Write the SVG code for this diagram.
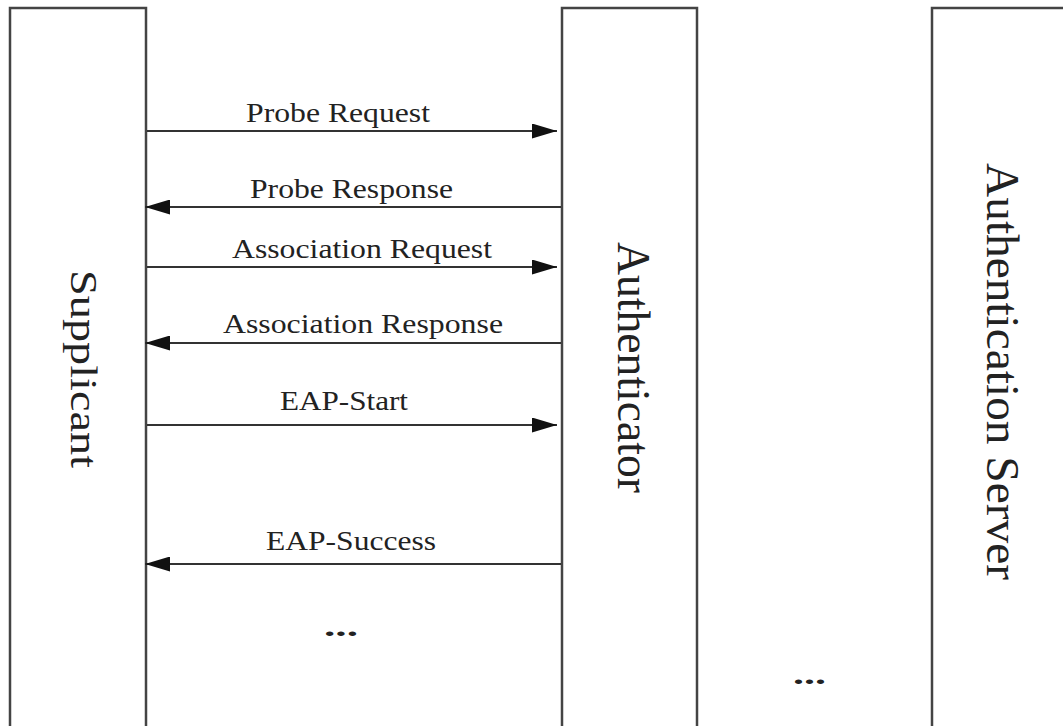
<svg xmlns="http://www.w3.org/2000/svg" width="1063" height="726" viewBox="0 0 1063 726">
  <style>
    .box { fill: #ffffff; stroke: #444444; stroke-width: 2.5; }
    .msg { stroke: #333333; stroke-width: 2.2; fill: none; marker-end: url(#arrow); }
    .lbl { font-family: "Liberation Serif", "Times New Roman", serif; font-size: 28px; fill: #222222; }
    .vlbl { font-family: "Liberation Serif", "Times New Roman", serif; fill: #222222; }
  </style>
  <defs>
    <marker id="arrow" markerUnits="userSpaceOnUse" markerWidth="26" markerHeight="15" refX="25" refY="7.5" orient="auto">
      <path d="M0,0 L25,7.5 L0,15 Z" fill="#111111"/>
    </marker>
  </defs>
  <rect width="1063" height="726" fill="#ffffff"/>

  <g id="supplicant">
    <rect class="box" x="10" y="8" width="136" height="740"/>
    <text class="vlbl" font-size="38" transform="translate(71,270) rotate(90)" textLength="198" lengthAdjust="spacingAndGlyphs">Supplicant</text>
  </g>

  <g id="authenticator">
    <rect class="box" x="562" y="8" width="135" height="740"/>
    <text class="vlbl" font-size="47" transform="translate(618,242) rotate(90)" textLength="251" lengthAdjust="spacingAndGlyphs">Authenticator</text>
  </g>

  <g id="authentication-server">
    <rect class="box" x="932" y="8" width="160" height="740"/>
    <text class="vlbl" font-size="47" transform="translate(987,163) rotate(90)" textLength="417" lengthAdjust="spacingAndGlyphs">Authentication Server</text>
  </g>

  <g id="connectors">
    <line class="msg" x1="147" y1="131" x2="557" y2="131"/>
    <line class="msg" x1="561" y1="207" x2="145" y2="207"/>
    <line class="msg" x1="147" y1="267" x2="557" y2="267"/>
    <line class="msg" x1="561" y1="343" x2="145" y2="343"/>
    <line class="msg" x1="147" y1="425" x2="557" y2="425"/>
    <line class="msg" x1="561" y1="564" x2="145" y2="564"/>
  </g>

  <g id="labels">
    <text class="lbl" x="246" y="122" textLength="184" lengthAdjust="spacingAndGlyphs">Probe Request</text>
    <text class="lbl" x="250" y="198" textLength="203" lengthAdjust="spacingAndGlyphs">Probe Response</text>
    <text class="lbl" x="232" y="258" textLength="260" lengthAdjust="spacingAndGlyphs">Association Request</text>
    <text class="lbl" x="223" y="333" textLength="280" lengthAdjust="spacingAndGlyphs">Association Response</text>
    <text class="lbl" x="280" y="410" textLength="128" lengthAdjust="spacingAndGlyphs">EAP-Start</text>
    <text class="lbl" x="266" y="550" textLength="170" lengthAdjust="spacingAndGlyphs">EAP-Success</text>
    <text class="lbl" x="324" y="636" textLength="34" lengthAdjust="spacingAndGlyphs" font-weight="bold">...</text>
    <text class="lbl" x="793" y="684" textLength="33" lengthAdjust="spacingAndGlyphs" font-weight="bold">...</text>
  </g>
</svg>
